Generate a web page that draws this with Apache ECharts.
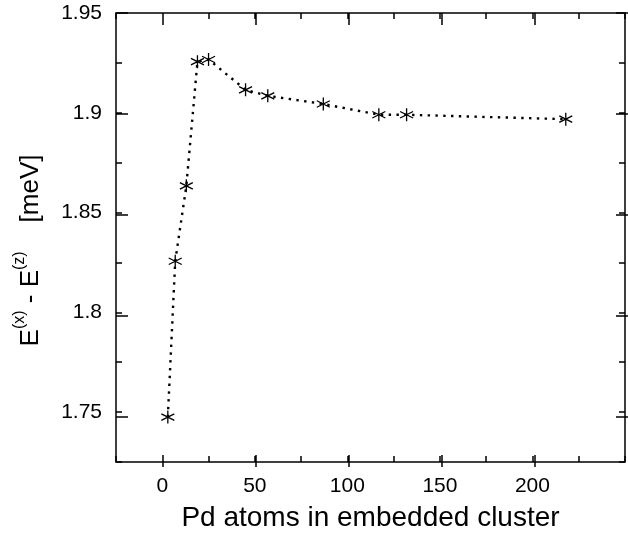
<!DOCTYPE html>
<html lang="en">
<head>
<meta charset="utf-8">
<title>Pd cluster</title>
<script src="https://cdn.jsdelivr.net/npm/echarts@6/dist/echarts.min.js"></script>
<style>
  html, body { margin: 0; padding: 0; background: #fff; }
  #main { width: 628px; height: 537px; }
</style>
</head>
<body>
<div id="main"></div>
<script>
// cluster size (Pd atoms) vs anisotropy energy
var atoms  = [3, 7, 13, 19, 25, 45, 57, 87, 117, 132, 218];
var energy = [1.7475, 1.8256, 1.8634, 1.9256, 1.9267, 1.9115, 1.9085, 1.9044, 1.8990, 1.8990, 1.8968];
var xTicks = [0, 50, 100, 150, 200];
var yTicks = [1.75, 1.8, 1.85, 1.9, 1.95];

var data = atoms.map(function (a, i) { return [a, energy[i]]; });

var font = 'Liberation Sans, Arial, Helvetica, sans-serif';
var star = 'path://M0,-10L0,10M-8.66,-5L8.66,5M-8.66,5L8.66,-5';

var myChart = echarts.init(document.getElementById('main'));

var minorTick = { show: true, inside: true, length: 6, lineStyle: { color: '#000', width: 1.5 } };
function majorTick(vals) {
    return { show: true, inside: true, length: 12, customValues: vals, lineStyle: { color: '#000', width: 1.5 } };
}
var noLine = { show: false, onZero: false };
var gridBox = { left: 116, right: -1, top: 13, bottom: 70 };

// grid 0 carries the data, labels and the short ticks; grid 1 (same box) only the long ticks
function xAx(gi, pos, tick, label) {
    return {
        gridIndex: gi, type: 'value', min: -25, max: 250, interval: 25, position: pos,
        axisLine: noLine, axisTick: tick, splitLine: { show: false },
        axisLabel: label || { show: false }
    };
}
function yAx(gi, pos, tick, label) {
    return {
        gridIndex: gi, type: 'value', min: 1.725, max: 1.95, interval: 0.025, position: pos,
        axisLine: noLine, axisTick: tick, splitLine: { show: false },
        axisLabel: label || { show: false }
    };
}

var xMain = xAx(0, 'bottom', minorTick, {
    margin: 14, fontSize: 21, color: '#000', fontFamily: font,
    formatter: function (v) { return xTicks.indexOf(v) >= 0 ? String(v) : ''; }
});
xMain.name = 'Pd atoms in embedded cluster';
xMain.nameLocation = 'middle';
xMain.nameGap = 42;
xMain.nameTextStyle = { fontSize: 28, color: '#000', fontFamily: font };

var yMain = yAx(0, 'left', minorTick, {
    margin: 14, fontSize: 21, color: '#000', fontFamily: font,
    formatter: function (v) {
        var r = Math.round(v * 1000) / 1000;
        return yTicks.indexOf(r) >= 0 ? String(r) : '';
    }
});
yMain.name = '{b|E}{s|(x)}{b| - E}{s|(z)}{b|    [meV]}';
yMain.nameLocation = 'middle';
yMain.nameGap = 72;
yMain.nameRotate = 90;
yMain.nameTextStyle = {
    color: '#000', fontFamily: font, padding: [0, 26, 0, 0],
    rich: {
        b: { fontSize: 26, lineHeight: 32, color: '#000', fontFamily: font, verticalAlign: 'bottom' },
        s: { fontSize: 16, lineHeight: 32, color: '#000', fontFamily: font, verticalAlign: 'top', padding: [0, 0, 13, 0] }
    }
};

var option = {
    animation: false,
    grid: [
        Object.assign({ show: true, borderColor: '#000', borderWidth: 1.5 }, gridBox),
        Object.assign({ show: false }, gridBox)
    ],
    xAxis: [
        xMain,
        xAx(0, 'top', minorTick),
        xAx(1, 'bottom', majorTick(xTicks)),
        xAx(1, 'top', majorTick(xTicks))
    ],
    yAxis: [
        yMain,
        yAx(0, 'right', minorTick),
        yAx(1, 'left', majorTick(yTicks)),
        yAx(1, 'right', majorTick(yTicks))
    ],
    series: [{
        type: 'line',
        xAxisIndex: 0, yAxisIndex: 0,
        data: data,
        symbol: star,
        symbolSize: 13,
        showAllSymbol: true,
        itemStyle: { color: 'none', borderColor: '#000', borderWidth: 1.3 },
        lineStyle: { color: '#000', width: 2.4, type: [2.4, 5.4] },
        z: 3
    }]
};

myChart.setOption(option);
</script>
</body>
</html>
